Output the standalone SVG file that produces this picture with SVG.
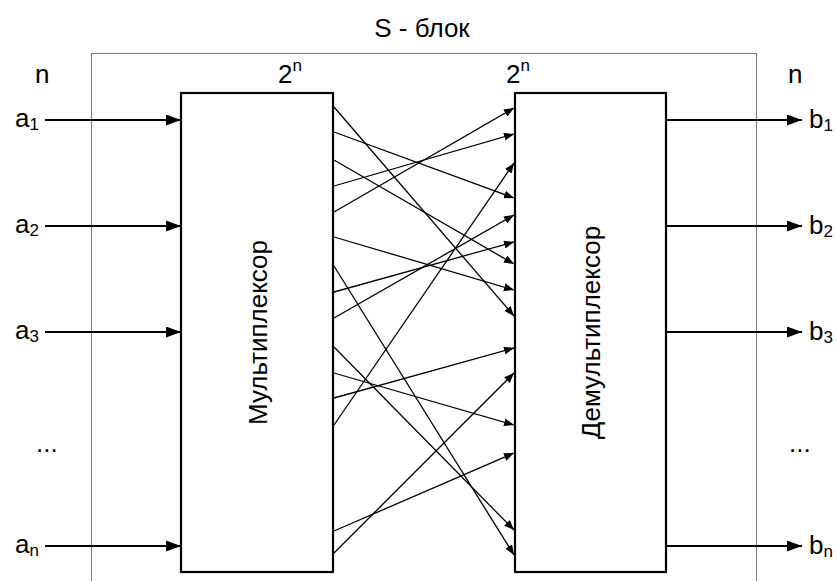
<svg xmlns="http://www.w3.org/2000/svg" width="837" height="581" viewBox="0 0 837 581">
<style>
text{font-family:"Liberation Sans",Arial,sans-serif;font-size:26px;fill:#000}
.sub{font-size:17px}
.box{fill:#fff;stroke:#000;stroke-width:2.2}
.io{stroke:#000;stroke-width:2;fill:none}
.x{stroke:#000;stroke-width:1.3;fill:none}
</style>
<defs>
<marker id="big" markerUnits="userSpaceOnUse" markerWidth="15" markerHeight="11" refX="15" refY="5.5" orient="auto">
<path d="M0,0 L15,5.5 L0,11 Z" fill="#000"/>
</marker>
<marker id="sm" markerUnits="userSpaceOnUse" markerWidth="10" markerHeight="8" refX="10" refY="4" orient="auto">
<path d="M0,0 L10,4 L0,8 Z" fill="#000"/>
</marker>
</defs>
<rect width="837" height="581" fill="#fff"/>
<g id="sblock">
<rect x="91.5" y="53.5" width="665" height="560" fill="none" stroke="#7a7a7a" stroke-width="1"/>
<text x="422" y="37" text-anchor="middle">S - блок</text>
</g>
<g id="mux">
<rect class="box" x="181" y="93" width="152" height="479"/>
<text transform="translate(267,332.5) rotate(-90)" text-anchor="middle">Мультиплексор</text>
<text x="278" y="83">2<tspan class="sub" dy="-12">n</tspan></text>
</g>
<g id="demux">
<rect class="box" x="515" y="93" width="151" height="479"/>
<text transform="translate(600,332.5) rotate(-90)" text-anchor="middle">Демультиплексор</text>
<text x="506" y="83">2<tspan class="sub" dy="-12">n</tspan></text>
</g>
<g id="inputs">
<text x="35" y="83">n</text>
<text x="39" y="127" text-anchor="end">a<tspan class="sub" dy="3">1</tspan></text>
<text x="39" y="233" text-anchor="end">a<tspan class="sub" dy="3">2</tspan></text>
<text x="39" y="339" text-anchor="end">a<tspan class="sub" dy="3">3</tspan></text>
<text x="36" y="452">...</text>
<text x="39" y="553" text-anchor="end">a<tspan class="sub" dy="3">n</tspan></text>
</g>
<g id="outputs">
<text x="788" y="83">n</text>
<text x="809" y="128">b<tspan class="sub" dy="3">1</tspan></text>
<text x="809" y="234">b<tspan class="sub" dy="3">2</tspan></text>
<text x="809" y="340">b<tspan class="sub" dy="3">3</tspan></text>
<text x="789" y="452">...</text>
<text x="809" y="554">b<tspan class="sub" dy="3">n</tspan></text>
</g>
<g id="connectors">
<line class="io" x1="45" y1="120" x2="181" y2="120" marker-end="url(#big)"/>
<line class="io" x1="45" y1="226" x2="181" y2="226" marker-end="url(#big)"/>
<line class="io" x1="45" y1="332" x2="181" y2="332" marker-end="url(#big)"/>
<line class="io" x1="45" y1="546" x2="181" y2="546" marker-end="url(#big)"/>
<line class="io" x1="666" y1="120" x2="802" y2="120" marker-end="url(#big)"/>
<line class="io" x1="666" y1="226" x2="802" y2="226" marker-end="url(#big)"/>
<line class="io" x1="666" y1="332" x2="802" y2="332" marker-end="url(#big)"/>
<line class="io" x1="666" y1="546" x2="802" y2="546" marker-end="url(#big)"/>
<line class="x" x1="334" y1="107" x2="514" y2="316" marker-end="url(#sm)"/>
<line class="x" x1="334" y1="132" x2="514" y2="198" marker-end="url(#sm)"/>
<line class="x" x1="334" y1="160" x2="514" y2="264" marker-end="url(#sm)"/>
<line class="x" x1="334" y1="186" x2="514" y2="134" marker-end="url(#sm)"/>
<line class="x" x1="334" y1="212" x2="514" y2="108" marker-end="url(#sm)"/>
<line class="x" x1="334" y1="237" x2="514" y2="290" marker-end="url(#sm)"/>
<line class="x" x1="334" y1="266" x2="514" y2="555" marker-end="url(#sm)"/>
<line class="x" x1="334" y1="292" x2="514" y2="242" marker-end="url(#sm)"/>
<line class="x" x1="334" y1="318" x2="514" y2="215" marker-end="url(#sm)"/>
<line class="x" x1="334" y1="347" x2="514" y2="530" marker-end="url(#sm)"/>
<line class="x" x1="334" y1="373" x2="514" y2="425" marker-end="url(#sm)"/>
<line class="x" x1="334" y1="398" x2="514" y2="348" marker-end="url(#sm)"/>
<line class="x" x1="334" y1="425" x2="514" y2="163" marker-end="url(#sm)"/>
<line class="x" x1="334" y1="531" x2="514" y2="453" marker-end="url(#sm)"/>
<line class="x" x1="334" y1="553" x2="514" y2="373" marker-end="url(#sm)"/>
</g>
</svg>
